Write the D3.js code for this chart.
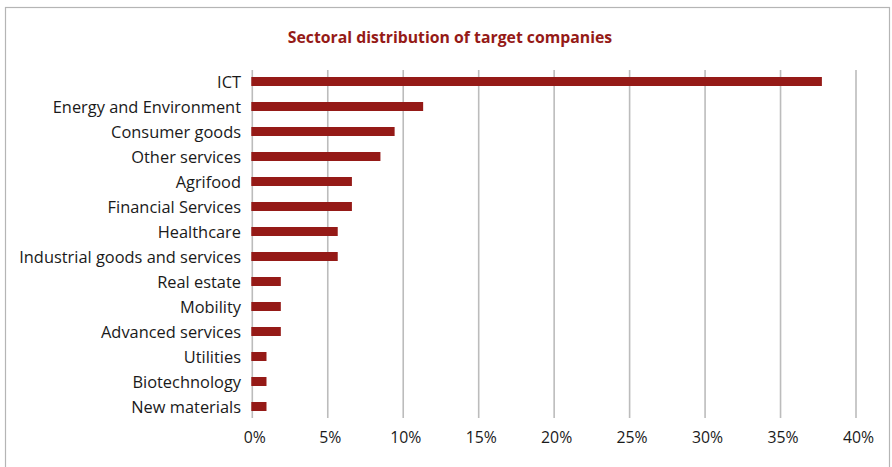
<!DOCTYPE html>
<html>
<head>
<meta charset="utf-8">
<script src="https://cdn.jsdelivr.net/npm/d3@7"></script>
<style>
  body { margin: 0; background: #fff; }
  svg { display: block; font-family: "Open Sans", sans-serif; }
</style>
</head>
<body>
<svg id="chart" width="892" height="467"></svg>
<script>
// Data: share of target companies by sector (%)
var sectors = [
    "ICT",
    "Energy and Environment",
    "Consumer goods",
    "Other services",
    "Agrifood",
    "Financial Services",
    "Healthcare",
    "Industrial goods and services",
    "Real estate",
    "Mobility",
    "Advanced services",
    "Utilities",
    "Biotechnology",
    "New materials"
];
var shares = [37.74, 11.32, 9.43, 8.49, 6.60, 6.60, 5.66, 5.66, 1.89, 1.89, 1.89, 0.94, 0.94, 0.94];
var xTicks = [0, 5, 10, 15, 20, 25, 30, 35, 40];

var barColour = "#951a17";

var svg = d3.select("#chart");

// outer frame
svg.append("rect")
    .attr("x", 5.5).attr("y", 7.5)
    .attr("width", 884).attr("height", 470)
    .attr("fill", "none")
    .attr("stroke", "#b5b5b5")
    .attr("stroke-width", 1.2);

svg.append("text")
    .attr("x", 450).attr("y", 43)
    .attr("text-anchor", "middle")
    .attr("fill", barColour)
    .style("font-size", "15.8px")
    .style("font-weight", "bold")
    .text("Sectoral distribution of target companies");

var x = d3.scaleLinear().domain([0, 40]).range([252.3, 856]);

var y = d3.scaleBand()
    .domain(sectors)
    .range([69, 419])
    .paddingInner(0.64)
    .paddingOuter(0.32);

// vertical gridlines
svg.append("g").selectAll("line")
    .data(xTicks)
    .enter().append("line")
    .attr("x1", function(d) { return x(d); })
    .attr("x2", function(d) { return x(d); })
    .attr("y1", 70).attr("y2", 418)
    .attr("stroke", "#bcbcbc")
    .attr("stroke-width", 1.6);

// x axis labels
var xAxis = d3.axisBottom(x)
    .tickValues(xTicks)
    .tickSize(0)
    .tickPadding(0)
    .tickFormat(function(d) { return d + "%"; });

var gx = svg.append("g")
    .attr("transform", "translate(2,443)")
    .call(xAxis);
gx.select(".domain").remove();
gx.selectAll("text")
    .attr("dy", 0)
    .attr("fill", "#1a1a1a")
    .style("font-size", "15.8px")
    .style("font-family", "'Open Sans', sans-serif");

// y axis labels
var yAxis = d3.axisLeft(y).tickSize(0).tickPadding(11);
var gy = svg.append("g")
    .attr("transform", "translate(252,1)")
    .call(yAxis);
gy.select(".domain").remove();
gy.selectAll("text")
    .attr("fill", "#1a1a1a")
    .style("font-size", "16.4px")
    .style("font-family", "'Open Sans', sans-serif");

// bars
svg.append("g").selectAll("rect")
    .data(sectors)
    .enter().append("rect")
    .attr("x", x(0) - 1)
    .attr("y", function(d) { return y(d); })
    .attr("width", function(d, i) { return x(shares[i]) - x(0) + 1; })
    .attr("height", y.bandwidth())
    .attr("fill", barColour);
</script>
</body>
</html>
